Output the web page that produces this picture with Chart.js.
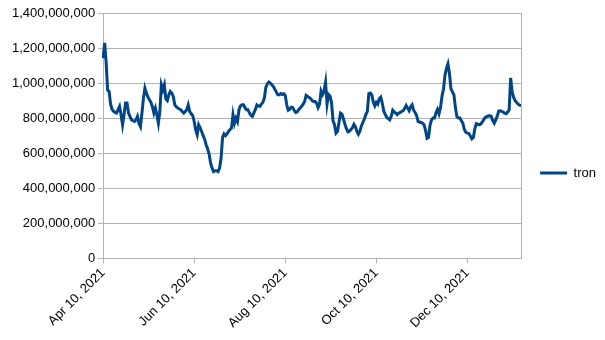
<!DOCTYPE html>
<html>
<head>
<meta charset="utf-8">
<script src="https://cdn.jsdelivr.net/npm/chart.js@4/dist/chart.umd.min.js"></script>
<style>
    body{margin:0;background:#fff;}
    #wrap{width:605px;height:340px;}
</style>
</head>
<body>
<div id="wrap"><canvas id="tronChart" width="605" height="340"></canvas></div>
<script>
// daily series, first day and length
const startDate = "2021-04-10";
const dayCount = 281;
const monthNames = ["Jan","Feb","Mar","Apr","May","Jun","Jul","Aug","Sep","Oct","Nov","Dec"];
// labels shown under the x axis
const tickLabels = ["Apr 10, 2021","Jun 10, 2021","Aug 10, 2021","Oct 10, 2021","Dec 10, 2021"];
// y axis ticks
const yTicks = [0,200000000,400000000,600000000,800000000,1000000000,1200000000,1400000000];
const seriesName = "tron";
// values in millions, one per day
const tronMillions = [
    1143,1229,1120,960,952,880,850,838,833,829,
    848,867,819,762,819,886,886,829,810,790,
    785,781,790,810,771,752,829,914,971,943,
    920,905,890,865,829,857,819,771,838,990,
    962,990,910,900,933,952,943,924,876,865,
    857,852,848,838,829,838,848,876,838,825,
    815,781,733,705,762,745,724,700,680,648,
    625,595,543,514,495,500,500,495,515,571,
    690,710,700,710,724,735,743,819,771,800,
    780,848,870,876,876,860,848,848,830,815,
    810,830,850,876,870,867,880,890,914,975,
    995,1006,1000,990,981,965,950,933,933,940,
    935,940,930,876,845,850,862,860,845,832,
    835,848,858,868,880,895,930,924,918,912,
    900,895,895,885,860,880,955,935,955,1005,
    880,935,925,890,785,762,715,725,775,828,
    822,795,765,740,722,725,735,745,765,750,
    724,708,725,755,775,795,820,838,940,943,
    933,890,870,890,880,912,920,885,840,820,
    805,797,790,810,845,835,828,820,828,833,
    838,843,855,872,857,842,865,876,845,832,
    815,780,778,775,771,762,730,685,690,760,
    790,800,800,830,850,825,860,925,965,1045,
    1084,1110,1055,968,950,933,860,808,800,800,
    785,770,735,718,714,712,698,682,690,740,
    768,765,762,766,778,792,804,808,812,814,
    810,786,771,790,810,840,842,838,835,828,
    825,835,848,1030,950,918,900,890,880,874,
    872
];

function formatDate(d){
    return monthNames[d.getUTCMonth()] + " " + d.getUTCDate() + ", " + d.getUTCFullYear();
}

let labels = [];
let first = new Date(startDate + "T00:00:00Z");
for (let i = 0; i < dayCount; i++){
    labels.push(formatDate(new Date(first.getTime() + i * 86400000)));
}
let values = tronMillions.map(v => v * 1000000);

// right border of the plot area
const frameRight = {
    id: 'frameRight',
    afterDraw(chart){
        let a = chart.chartArea;
        let c = chart.ctx;
        c.save();
        c.strokeStyle = '#b3b3b3';
        c.lineWidth = 1;
        c.beginPath();
        c.moveTo(Math.round(a.right) + 0.5, a.top);
        c.lineTo(Math.round(a.right) + 0.5, a.bottom);
        c.stroke();
        c.restore();
    }
};

Chart.defaults.font.family = "'Liberation Sans', Arial, sans-serif";
Chart.defaults.font.size = 13;
Chart.defaults.color = '#000';

new Chart(document.getElementById("tronChart"), {
    type: 'line',
    data: {
        labels: labels,
        datasets: [{
            label: seriesName,
            data: values,
            borderColor: '#004586',
            backgroundColor: '#004586',
            borderWidth: 3,
            pointRadius: 0,
            tension: 0
        }]
    },
    options: {
        responsive: false,
        animation: false,
        layout: {
            padding: {top: 13, right: -1, bottom: 7, left: 9}
        },
        plugins: {
            tooltip: {enabled: false},
            legend: {
                position: 'right',
                labels: {
                    usePointStyle: true,
                    pointStyle: 'line',
                    pointStyleWidth: 27,
                    padding: 19,
                    color: '#000',
                    font: {size: 13}
                }
            }
        },
        scales: {
            x: {
                type: 'category',
                offset: false,
                grid: {
                    drawOnChartArea: false,
                    drawTicks: true,
                    tickLength: 5,
                    color: '#b3b3b3'
                },
                border: {color: '#b3b3b3'},
                ticks: {
                    autoSkip: false,
                    maxRotation: 45,
                    minRotation: 45,
                    padding: 2,
                    callback: function(value, index){
                        let l = labels[index];
                        return tickLabels.includes(l) ? l : null;
                    }
                }
            },
            y: {
                min: yTicks[0],
                max: yTicks[yTicks.length - 1],
                afterBuildTicks: function(axis){
                    axis.ticks = yTicks.map(v => ({value: v}));
                },
                grid: {
                    color: '#b3b3b3',
                    tickLength: 5
                },
                border: {color: '#b3b3b3'},
                ticks: {
                    padding: 3,
                    callback: function(value){
                        return Number(value).toLocaleString('en-US');
                    }
                }
            }
        }
    },
    plugins: [frameRight]
});
</script>
</body>
</html>
